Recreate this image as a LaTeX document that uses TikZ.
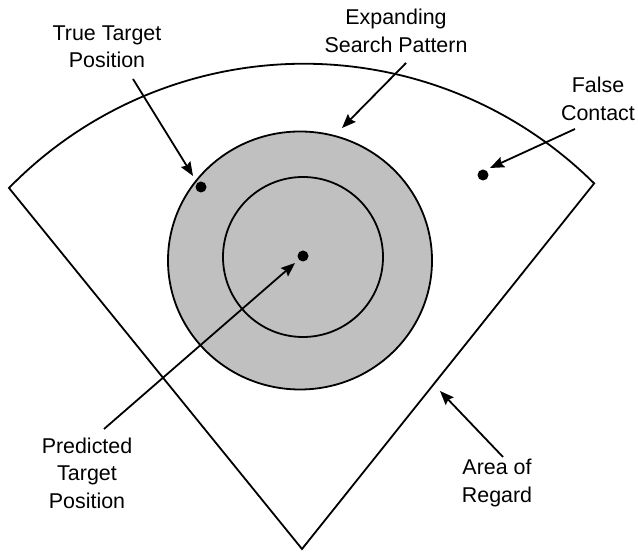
\documentclass[tikz,border=0pt]{standalone}
\usepackage{fontspec}
\setmainfont{Liberation Sans}
\usetikzlibrary{arrows.meta}
\begin{document}
\begin{tikzpicture}[x=1bp,y=1bp,
  outline/.style={draw=black,line width=1.8bp},
  pointer/.style={draw=black,line width=1.8bp,-{Stealth[length=14bp,width=11bp,inset=2bp]}},
  lbl/.style={align=center,font=\fontsize{21.5}{27.5}\selectfont,inner sep=0pt},
  dot/.style={circle,fill=black,inner sep=0pt,minimum size=11bp}]
\useasboundingbox (0,0) rectangle (638,553);
% area of regard
\path[outline,fill=white] (9,365) arc[start angle=135.7,end angle=45.2,radius=412] -- (302,4) -- cycle;
% search pattern
\path[outline,fill={rgb,255:red,192;green,192;blue,192}] (300,292.5) ellipse[x radius=132,y radius=129];
\path[outline] (303,296) circle[radius=80];
% dots
\node[dot] (truepos) at (201,366) {};
\node[dot] (predpos) at (303,297) {};
\node[dot] (falsepos) at (483,378) {};
% labels
\node[lbl] (ltrue) at (107,506) {True Target\\Position};
\node[lbl] (lexp) at (396,522) {Expanding\\Search Pattern};
\node[lbl] (lfalse) at (598,454) {False\\Contact};
\node[lbl] (lpred) at (87,80) {Predicted\\Target\\Position};
\node[lbl] (larea) at (497,70) {Area of\\Regard};
% arrow ends
\coordinate (a1s) at (133,474); \coordinate (a1e) at (193,377);
\coordinate (a2s) at (406,490); \coordinate (a2e) at (342,425);
\coordinate (a3s) at (575,424); \coordinate (a3e) at (490,385);
\coordinate (a4s) at (104,124); \coordinate (a4e) at (295,290);
\coordinate (a5s) at (503,96);  \coordinate (a5e) at (440,162);
\draw[pointer] (a1s) -- (a1e);
\draw[pointer] (a2s) -- (a2e);
\draw[pointer] (a3s) -- (a3e);
\draw[pointer] (a4s) -- (a4e);
\draw[pointer] (a5s) -- (a5e);
\end{tikzpicture}
\end{document}
